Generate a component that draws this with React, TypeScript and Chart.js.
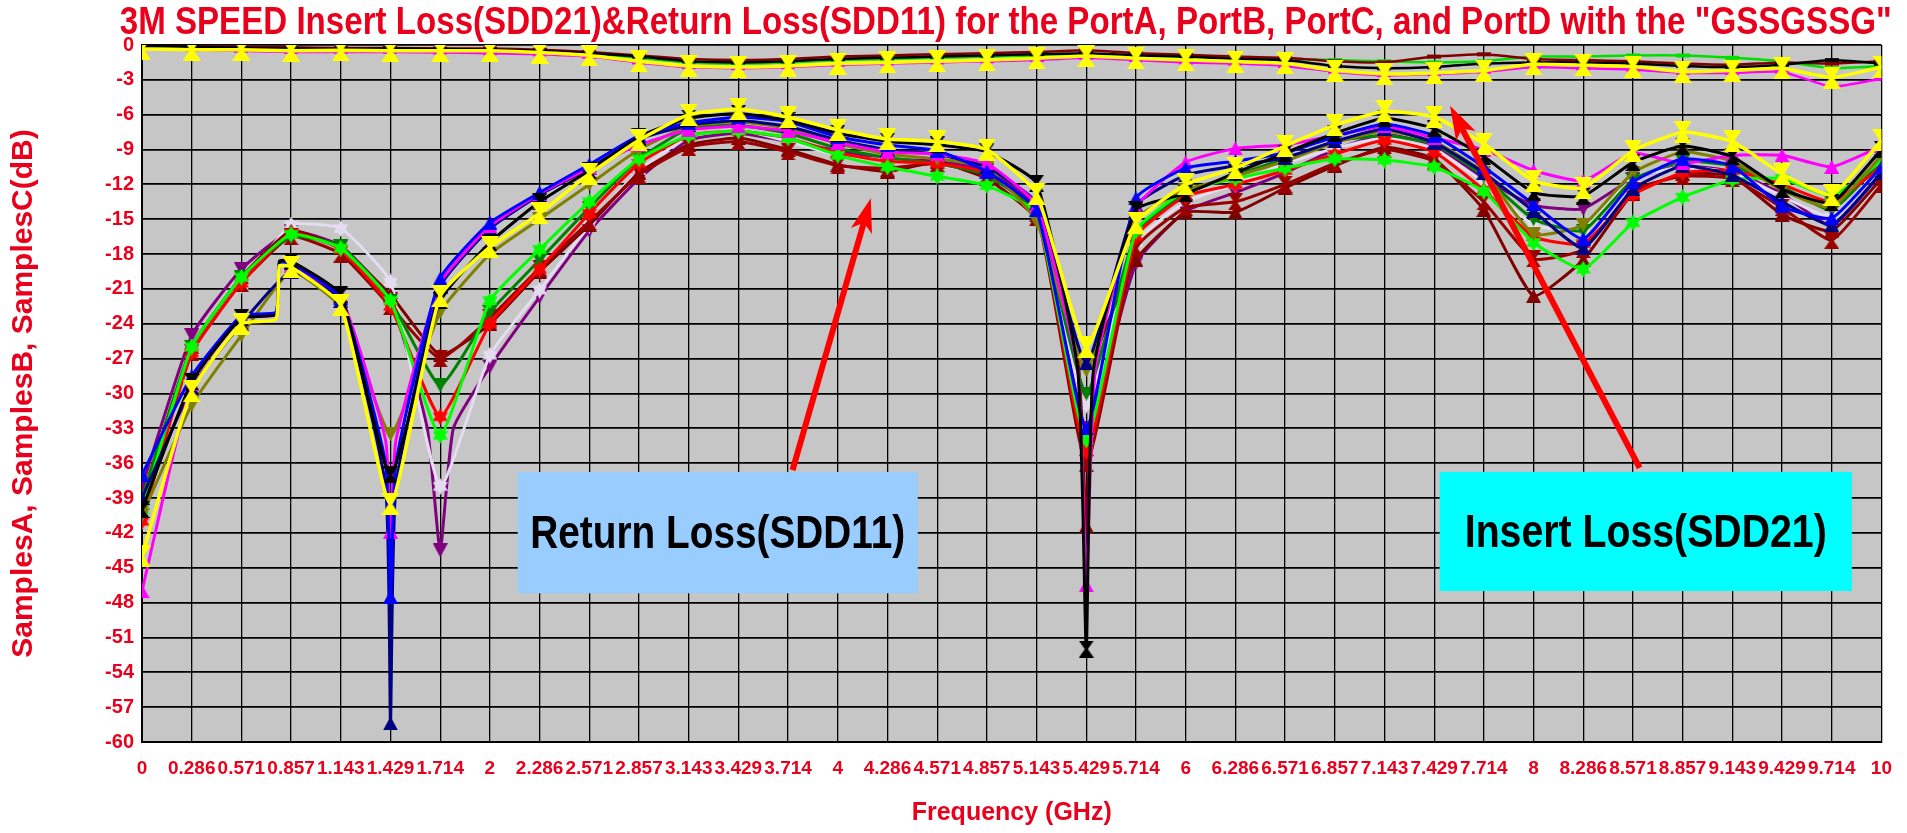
import { useEffect, useRef } from 'react';
import { Chart, registerables } from 'chart.js';
Chart.register(...registerables);

const SANS = "'Liberation Sans', Arial, sans-serif";
const RED = '#e8001c';

const TITLE = '3M SPEED Insert Loss(SDD21)&Return Loss(SDD11) for the PortA, PortB, PortC, and PortD with the "GSSGSSG"';
const X_TITLE = 'Frequency (GHz)';
const Y_TITLE = 'SamplesA, SamplesB, SamplesC(dB)';

// frequency points (GHz) where every series is sampled / marked
const FREQ = [0, 0.285714, 0.571429, 0.857143, 1.142857, 1.428571, 1.714286, 2, 2.285714, 2.571429,
  2.857143, 3.142857, 3.428571, 3.714286, 4, 4.285714, 4.571429, 4.857143, 5.142857, 5.428571,
  5.714286, 6, 6.285714, 6.571429, 6.857143, 7.142857, 7.428571, 7.714286, 8, 8.285714,
  8.571429, 8.857143, 9.142857, 9.428571, 9.714286, 10];
const X_TICK_LABELS = ['0', '0.286', '0.571', '0.857', '1.143', '1.429', '1.714', '2', '2.286', '2.571',
  '2.857', '3.143', '3.429', '3.714', '4', '4.286', '4.571', '4.857', '5.143', '5.429',
  '5.714', '6', '6.286', '6.571', '6.857', '7.143', '7.429', '7.714', '8', '8.286',
  '8.571', '8.857', '9.143', '9.429', '9.714', '10'];

// Return loss (SDD11) series, dB
const S11_YELLOW = [-44, -29.8, -24.0, -19.1, -22.4, -39.5, -21.6, -17.4, -14.5, -11.1, -8.2, -6.0, -5.5, -6.2, -7.3, -8.1, -8.3, -9.0, -12.8, -26.0, -15.3, -12.0, -10.6, -8.7, -6.9, -5.7, -6.2, -8.5, -11.7, -12.3, -9.1, -7.5, -8.3, -11.1, -12.9, -8.2];
const S11_BLACK = [-40, -29, -23.5, -18.6, -21.5, -37, -22.0, -17.0, -13.5, -10.8, -7.9, -6.3, -5.9, -6.5, -7.6, -8.3, -8.6, -9.2, -11.9, -52, -14.2, -12.8, -11.0, -9.3, -7.6, -6.3, -7.2, -9.6, -12.7, -13.0, -10.1, -8.7, -9.6, -12.4, -13.6, -9.0];
const S11_BLUE = [-37, -28.5, -23.3, -18.8, -21.8, -47.5, -20.1, -15.3, -12.7, -10.3, -7.8, -6.7, -6.2, -6.6, -7.9, -8.6, -9.1, -10.9, -14.2, -33, -13.2, -10.6, -10.0, -9.3, -7.9, -6.8, -7.8, -10.5, -13.7, -16.7, -11.8, -9.8, -10.4, -13.9, -14.9, -10.5];
const S11_NAVY = [-39, -29.5, -24.0, -19.5, -22.0, -58.4, -20.8, -15.8, -12.9, -10.6, -8.1, -6.9, -6.5, -7.0, -8.2, -9.0, -9.4, -10.5, -13.6, -27.4, -13.8, -11.2, -10.4, -9.7, -8.3, -7.2, -8.4, -11.0, -14.3, -17.5, -12.4, -10.4, -11.2, -13.5, -15.5, -11.0];
const S11_MAGENTA = [-47, -29.2, -23.5, -19.0, -21.7, -41.9, -20.5, -15.6, -12.8, -10.6, -8.6, -7.3, -7.0, -7.4, -8.4, -9.2, -9.4, -10.2, -13.8, -46.5, -14.0, -10.1, -8.9, -8.6, -7.8, -7.0, -8.0, -9.0, -10.8, -11.7, -9.3, -10.2, -9.5, -9.5, -10.5, -8.7];
const S11_OLIVE = [-40.5, -31, -25, -19.5, -22.6, -33.5, -23, -18, -15, -12, -9, -7.0, -6.6, -7.2, -8.5, -9.4, -9.8, -10.6, -15.2, -28, -15, -12.5, -11.3, -10, -8.4, -7.4, -8.3, -11, -16.3, -15.5, -11, -9.2, -10, -12.5, -14, -9.5];
const S11_PURPLE = [-38, -25, -19.3, -16.0, -17.3, -21.9, -43.5, -27.7, -21.7, -16.0, -11.5, -8.2, -7.6, -8.3, -9.1, -9.8, -10.0, -10.8, -14.0, -33, -18.8, -14.3, -12.7, -11.0, -9.0, -7.7, -8.6, -11.5, -13.8, -14.1, -11.5, -10.4, -10.9, -12.8, -15.6, -11];
const S11_MAROON = [-39, -26, -20, -16.0, -17.5, -21.5, -26.7, -24.0, -19.5, -15.5, -11, -8.6, -8.0, -9.0, -10.3, -10.9, -10.1, -11.5, -15.0, -41.4, -18.5, -14.4, -14.4, -12.3, -10.4, -8.8, -9.8, -14.2, -21.6, -18.5, -12.8, -11.1, -11.3, -14.6, -16.0, -11.5];
const S11_DARKRED = [-40, -26.5, -20.5, -16.5, -18, -22.5, -27, -23.5, -19.2, -15.2, -11.2, -8.8, -8.3, -9.2, -10.4, -10.6, -10.2, -11.2, -14.5, -36, -17.5, -14.0, -13.5, -12.0, -10.2, -9.0, -10.0, -13.5, -18.4, -17.6, -12.5, -11.3, -11.5, -14.0, -16.8, -12];
const S11_RED = [-41, -26.5, -20.5, -16.2, -17.6, -22.5, -32, -24.0, -19.3, -14.5, -10.2, -7.8, -7.4, -8.0, -9.3, -10.0, -10.2, -11.0, -14.2, -35, -16.5, -13.0, -12.0, -10.8, -9.4, -8.2, -9.2, -12.5, -16.5, -17.1, -12.9, -11.0, -10.8, -12.0, -13.5, -10.5];
const S11_LIME = [-40, -26, -20, -16.3, -17.5, -22, -33.6, -22.0, -17.6, -13.5, -9.8, -7.8, -7.4, -8.0, -9.5, -10.5, -11.3, -12.1, -14.5, -34, -16, -12.5, -11.5, -10.6, -9.8, -9.9, -10.5, -12.6, -17.0, -19.3, -15.3, -13.1, -11.6, -11.5, -13.0, -10];
const S11_GREEN = [-39, -26, -20, -16.5, -17.3, -22, -29.3, -23, -18.5, -14, -9.8, -7.2, -6.9, -7.6, -8.9, -9.7, -10.2, -11.2, -14.4, -30, -16.2, -12.8, -11.2, -9.8, -8.3, -7.8, -8.5, -11.3, -15.0, -16.0, -11.6, -10.0, -10.4, -12.2, -14.2, -10];
const S11_PALE = [-41, -26, -20.7, -15.5, -15.8, -20.4, -38, -26.7, -21.1, -15.5, -10.8, -7.9, -7.3, -8.3, -9.5, -9.9, -10.3, -11.2, -14.5, -31, -17, -13.5, -12.0, -10.2, -8.9, -8.0, -9.0, -11.8, -15.5, -15.8, -11.5, -10.5, -11.0, -13.0, -14.8, -10.5];

// extra in-between readings (GHz, dB) where curves have sharp features
const YELLOW_DETAIL: [number, number][] = [[0.77, -23.6], [0.79, -19.0]];
const BLACK_DETAIL: [number, number][] = [[0.77, -23.2], [0.79, -18.6], [5.38, -28], [5.47, -28]];
const BLUE_DETAIL: [number, number][] = [[0.77, -23.0], [0.79, -18.8], [1.40, -36], [1.46, -36]];
const NAVY_DETAIL: [number, number][] = [[1.40, -38], [1.46, -38]];
const MAGENTA_DETAIL: [number, number][] = [[0.77, -23.2], [0.79, -19.0], [1.40, -34], [1.46, -34], [5.38, -28], [5.48, -28]];
const MAROON_DETAIL: [number, number][] = [[5.38, -27], [5.48, -27]];
const PURPLE_DETAIL: [number, number][] = [[1.64, -33], [1.79, -33]];

// Insert loss (SDD21) series, dB
const S21_YELLOW = [-0.35, -0.4, -0.4, -0.5, -0.45, -0.5, -0.5, -0.5, -0.65, -0.9, -1.4, -1.8, -1.9, -1.8, -1.6, -1.5, -1.4, -1.3, -1.14, -0.94, -1.14, -1.29, -1.43, -1.57, -2.2, -2.5, -2.4, -2.2, -1.66, -1.74, -1.86, -2.3, -2.2, -2.0, -2.8, -1.9];
const S21_BLACK = [-0.1, -0.15, -0.25, -0.3, -0.35, -0.3, -0.35, -0.4, -0.5, -0.7, -1.0, -1.4, -1.5, -1.4, -1.2, -1.1, -1.0, -0.9, -0.8, -0.7, -0.9, -1.0, -1.2, -1.3, -1.8, -2.0, -1.9, -1.6, -1.5, -1.5, -1.6, -1.8, -1.9, -1.7, -1.3, -1.6];
const S21_MAROON = [-0.05, -0.1, -0.15, -0.2, -0.25, -0.25, -0.3, -0.3, -0.4, -0.6, -0.9, -1.2, -1.3, -1.2, -1.0, -0.9, -0.8, -0.7, -0.6, -0.45, -0.7, -0.85, -1.0, -1.1, -1.4, -1.5, -1.0, -0.8, -1.2, -1.3, -1.4, -1.6, -1.7, -1.5, -1.6, -1.4];
const S21_GREEN = [-0.1, -0.2, -0.3, -0.35, -0.4, -0.4, -0.4, -0.45, -0.55, -0.75, -1.1, -1.5, -1.6, -1.5, -1.3, -1.2, -1.1, -1.0, -0.9, -0.8, -0.95, -1.0, -1.1, -1.2, -1.3, -1.4, -1.5, -1.4, -1.0, -1.0, -0.9, -0.9, -1.1, -1.4, -2.0, -1.8];
const S21_MAGENTA = [-0.2, -0.4, -0.5, -0.6, -0.6, -0.6, -0.65, -0.7, -0.8, -1.0, -1.5, -1.9, -2.0, -1.9, -1.7, -1.6, -1.5, -1.4, -1.3, -1.1, -1.3, -1.5, -1.6, -1.8, -2.3, -2.6, -2.5, -2.3, -1.9, -2.0, -2.1, -2.4, -2.4, -2.3, -3.6, -2.9];

// annotations (data coordinates)
const NOTE_BOXES = [
  { text: 'Return Loss(SDD11)', x0: 2.16, x1: 4.46, y0: -36.75, y1: -47.2, color: '#99ccff', textWidth: 375 },
  { text: 'Insert Loss(SDD21)', x0: 7.46, x1: 9.83, y0: -36.75, y1: -47.0, color: '#00ffff', textWidth: 362 },
];
const NOTE_ARROWS = [
  { from: [3.74, -36.6], to: [4.19, -13.2] },
  { from: [8.61, -36.4], to: [7.52, -5.24] },
];

function markerCanvas(kind: string, color: string, w: number, h: number) {
  const c = document.createElement('canvas');
  c.width = w; c.height = h;
  const g = c.getContext('2d')!;
  g.fillStyle = color;
  g.beginPath();
  if (kind === 'hourglass') {
    g.moveTo(0, 0); g.lineTo(w, 0); g.lineTo(w * 0.6, h / 2); g.lineTo(w, h); g.lineTo(0, h); g.lineTo(w * 0.4, h / 2); g.closePath();
  } else if (kind === 'down') {
    g.moveTo(0, 0); g.lineTo(w, 0); g.lineTo(w / 2, h); g.closePath();
  } else if (kind === 'up') {
    g.moveTo(w / 2, 0); g.lineTo(w, h); g.lineTo(0, h); g.closePath();
  } else if (kind === 'star') {
    g.moveTo(w / 2, 0); g.lineTo(w, h * 0.75); g.lineTo(0, h * 0.75); g.closePath();
    g.moveTo(0, h * 0.25); g.lineTo(w, h * 0.25); g.lineTo(w / 2, h); g.closePath();
  } else if (kind === 'dash') {
    g.rect(0, h / 2 - 2, w, 4);
  }
  g.fill();
  return c;
}

function points(ys: number[], detail: [number, number][] = []) {
  const arr: { x: number; y: number; m: boolean }[] = ys.map((y, i) => ({ x: FREQ[i], y, m: true }));
  detail.forEach(([x, y]) => arr.push({ x, y, m: false }));
  arr.sort((a, b) => a.x - b.x);
  return arr;
}

function series(label: string, ys: number[], detail: [number, number][], color: string, kind: string, w: number, h: number, bw: number) {
  const img = markerCanvas(kind, color, w, h);
  return {
    label,
    data: points(ys, detail),
    borderColor: color,
    backgroundColor: color,
    borderWidth: bw,
    pointStyle: img,
    pointRadius: (ctx: any) => (ctx.raw && ctx.raw.m ? 6 : 0),
    pointHoverRadius: 0,
    tension: 0.15,
  };
}

// draw condensed bold text (the original uses a narrow bold face)
function narrowText(ctx: CanvasRenderingContext2D, text: string, cx: number, cy: number, size: number, width: number, color: string) {
  ctx.save();
  ctx.font = `bold ${size}px ${SANS}`;
  const w = ctx.measureText(text).width;
  const sx = width / w;
  ctx.translate(cx, cy);
  ctx.scale(sx, 1);
  ctx.fillStyle = color;
  ctx.textAlign = 'center';
  ctx.textBaseline = 'middle';
  ctx.fillText(text, 0, 0);
  ctx.restore();
}

const backgroundPlugin = {
  id: 'plotBg',
  beforeDraw(chart: any) {
    const { ctx, chartArea: a } = chart;
    ctx.save();
    ctx.fillStyle = '#ffffff';
    ctx.fillRect(0, 0, chart.width, chart.height);
    ctx.fillStyle = '#c6c6c6';
    ctx.fillRect(a.left, a.top, a.right - a.left, a.bottom - a.top);
    ctx.restore();
  },
  afterDraw(chart: any) {
    const a = chart.chartArea;
    narrowText(chart.ctx, TITLE, (a.left + a.right) / 2 - 6, 24, 38, 1772, RED);
  },
};

const notesPlugin = {
  id: 'notes',
  afterDatasetsDraw(chart: any) {
    const { ctx } = chart;
    const xs = chart.scales.x, ys = chart.scales.y;
    ctx.save();
    NOTE_BOXES.forEach((b) => {
      const x0 = xs.getPixelForValue(b.x0), x1 = xs.getPixelForValue(b.x1);
      const y0 = ys.getPixelForValue(b.y0), y1 = ys.getPixelForValue(b.y1);
      ctx.fillStyle = b.color;
      ctx.fillRect(x0, y0, x1 - x0, y1 - y0);
      narrowText(ctx, b.text, (x0 + x1) / 2, (y0 + y1) / 2 + 3, 46, b.textWidth, '#000');
    });
    NOTE_ARROWS.forEach((a) => {
      const fx = xs.getPixelForValue(a.from[0]), fy = ys.getPixelForValue(a.from[1]);
      const tx = xs.getPixelForValue(a.to[0]), ty = ys.getPixelForValue(a.to[1]);
      const ang = Math.atan2(ty - fy, tx - fx);
      const c = Math.cos(ang), s = Math.sin(ang);
      const L = 34, W = 11;
      ctx.strokeStyle = '#ff0000';
      ctx.fillStyle = '#ff0000';
      ctx.lineWidth = 6;
      ctx.beginPath();
      ctx.moveTo(fx, fy);
      ctx.lineTo(tx - L * 0.7 * c, ty - L * 0.7 * s);
      ctx.stroke();
      ctx.beginPath();
      ctx.moveTo(tx, ty);
      ctx.lineTo(tx - L * c + W * s, ty - L * s - W * c);
      ctx.lineTo(tx - L * 0.75 * c, ty - L * 0.75 * s);
      ctx.lineTo(tx - L * c - W * s, ty - L * s + W * c);
      ctx.closePath();
      ctx.fill();
    });
    ctx.restore();
  },
};

export default function App() {
  const ref = useRef<HTMLCanvasElement>(null);
  useEffect(() => {
    document.body.style.margin = '0';
    const datasets: any[] = [
      series('S21 yellow', S21_YELLOW, [], '#ffff00', 'hourglass', 18, 22, 3.5),
      series('S11 yellow', S11_YELLOW, YELLOW_DETAIL, '#ffff00', 'hourglass', 18, 22, 3.5),
      series('S11 black', S11_BLACK, BLACK_DETAIL, '#000000', 'hourglass', 15, 17, 3),
      series('S21 black', S21_BLACK, [], '#000000', 'dash', 14, 8, 2.5),
      series('S21 maroon', S21_MAROON, [], '#800000', 'dash', 14, 8, 2.5),
      series('S21 green', S21_GREEN, [], '#00e000', 'dash', 14, 8, 2.5),
      series('S21 magenta', S21_MAGENTA, [], '#ff00ff', 'dash', 14, 8, 2.5),
      series('S11 blue', S11_BLUE, BLUE_DETAIL, '#0000ff', 'up', 15, 14, 3),
      series('S11 magenta', S11_MAGENTA, MAGENTA_DETAIL, '#ff00ff', 'up', 15, 14, 3),
      series('S11 navy', S11_NAVY, NAVY_DETAIL, '#000080', 'up', 15, 14, 3),
      series('S11 olive', S11_OLIVE, [], '#808000', 'down', 15, 14, 3),
      series('S11 lime', S11_LIME, [], '#00ff00', 'star', 15, 17, 3),
      series('S11 red', S11_RED, [], '#ff0000', 'star', 15, 17, 3),
      series('S11 green', S11_GREEN, [], '#008000', 'down', 15, 14, 3),
      series('S11 darkred', S11_DARKRED, [], '#990000', 'hourglass', 15, 17, 3),
      series('S11 maroon', S11_MAROON, MAROON_DETAIL, '#800000', 'up', 15, 14, 3),
      series('S11 pale', S11_PALE, [], '#e4dcf0', 'star', 15, 17, 3),
      series('S11 purple', S11_PURPLE, PURPLE_DETAIL, '#800080', 'down', 15, 14, 3),
    ];
    const chart = new Chart(ref.current!, {
      type: 'line',
      data: { datasets },
      plugins: [backgroundPlugin, notesPlugin],
      options: {
        animation: false,
        responsive: true,
        maintainAspectRatio: false,
        events: [],
        layout: { padding: { left: 0, right: 21, top: 45, bottom: 0 } },
        plugins: {
          legend: { display: false },
          tooltip: { enabled: false },
          title: { display: false },
        },
        scales: {
          x: {
            type: 'linear',
            min: 0,
            max: 10,
            afterBuildTicks: (scale: any) => {
              scale.ticks = FREQ.map((v) => ({ value: v }));
            },
            afterFit: (scale: any) => {
              scale.height = 91;
            },
            ticks: {
              autoSkip: false,
              maxRotation: 0,
              minRotation: 0,
              padding: 15,
              color: RED,
              font: { family: SANS, size: 19, weight: 'bold' },
              callback: (_v: any, i: number) => X_TICK_LABELS[i],
            },
            grid: { color: '#000', lineWidth: 1.3, drawTicks: false },
            border: { display: true, color: '#000', width: 2 },
            title: {
              display: true,
              text: X_TITLE,
              color: RED,
              font: { family: SANS, size: 25, weight: 'bold', lineHeight: 1.2 },
              padding: { top: 0, bottom: 5 },
            },
          },
          y: {
            min: -60,
            max: 0,
            afterFit: (scale: any) => {
              scale.width = 142;
            },
            ticks: {
              stepSize: 3,
              padding: 8,
              color: RED,
              font: { family: SANS, size: 20, weight: 'bold' },
            },
            grid: { color: '#000', lineWidth: 1.8, drawTicks: false },
            border: { display: true, color: '#000', width: 2 },
            title: {
              display: true,
              text: Y_TITLE,
              color: RED,
              font: { family: SANS, size: 30, weight: 'bold', lineHeight: 1.2 },
              padding: { top: 6, bottom: 0 },
            },
          },
        },
      } as any,
    });
    return () => chart.destroy();
  }, []);
  return (
    <div style={{ width: 1907, height: 833, position: 'relative', background: '#fff' }}>
      <canvas ref={ref} />
    </div>
  );
}
